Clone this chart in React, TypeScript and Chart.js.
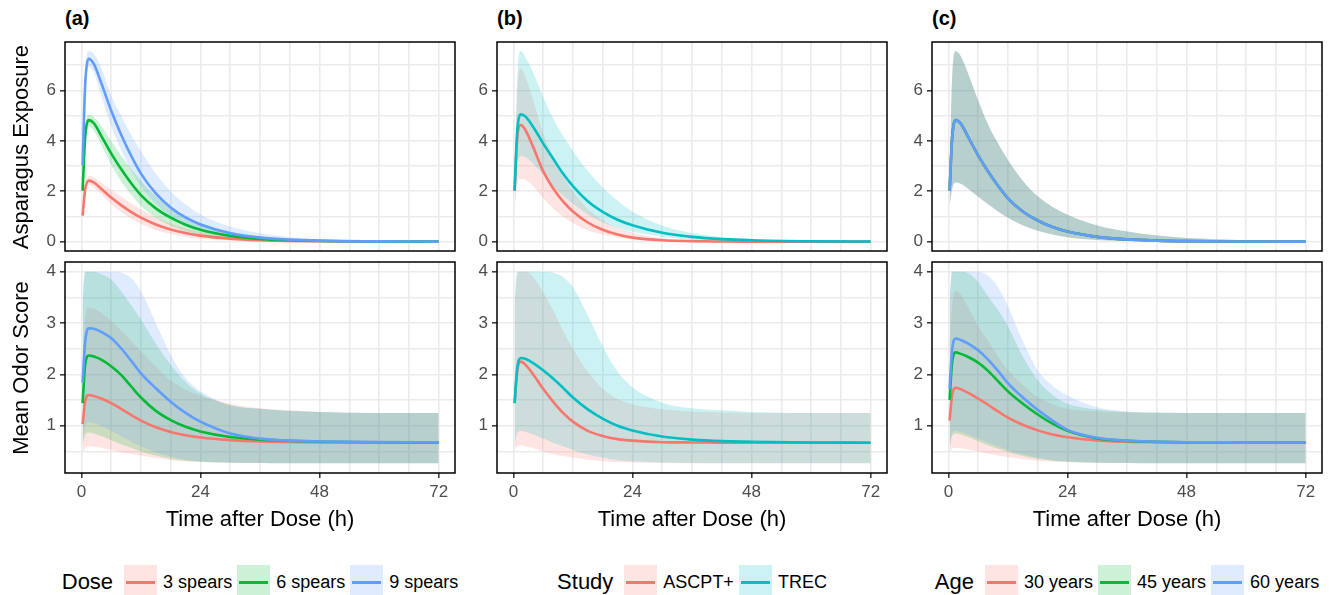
import React, { useEffect, useRef } from "react";
import { Chart, registerables } from "chart.js";
Chart.register(...registerables);

// ---------- data ----------
const TIME = [0.25, 0.75, 1.5, 2.5, 4, 6, 8, 10, 12, 15, 18, 21, 24, 30, 36, 42, 48, 60, 72];
const X_TICKS = [0, 6, 12, 18, 24, 30, 36, 42, 48, 54, 60, 66, 72];
const X_LABELS = [0, 24, 48, 72];
const EXPO_TICKS = [0, 1, 2, 3, 4, 5, 6, 7];
const EXPO_LABELS = [0, 2, 4, 6];
const ODOR_TICKS = [0.5, 1, 1.5, 2, 2.5, 3, 3.5, 4];
const ODOR_LABELS = [1, 2, 3, 4];

// (a) Dose – exposure
const DOSE3_EXPO = [1.03, 2.05, 2.42, 2.35, 2.1, 1.75, 1.45, 1.18, 0.95, 0.68, 0.48, 0.34, 0.24, 0.12, 0.06, 0.03, 0.015, 0.004, 0.001];
const DOSE3_EXPO_HI = [1.1, 2.2, 2.6, 2.55, 2.35, 2.05, 1.78, 1.52, 1.28, 0.97, 0.72, 0.53, 0.39, 0.21, 0.11, 0.06, 0.03, 0.01, 0.003];
const DOSE3_EXPO_LO = [0.95, 1.9, 2.25, 2.15, 1.88, 1.5, 1.18, 0.92, 0.71, 0.46, 0.3, 0.19, 0.12, 0.05, 0.02, 0.01, 0.005, 0.001, 0];
const DOSE6_EXPO = [2.02, 4.1, 4.82, 4.7, 4.2, 3.5, 2.88, 2.33, 1.85, 1.32, 0.95, 0.67, 0.47, 0.23, 0.11, 0.055, 0.027, 0.007, 0.002];
const DOSE6_EXPO_HI = [2.2, 4.4, 5.02, 4.95, 4.6, 4.0, 3.42, 2.9, 2.42, 1.8, 1.35, 1.0, 0.74, 0.4, 0.21, 0.11, 0.06, 0.02, 0.005];
const DOSE6_EXPO_LO = [1.9, 3.8, 4.55, 4.4, 3.85, 3.05, 2.4, 1.88, 1.42, 0.95, 0.63, 0.42, 0.28, 0.12, 0.05, 0.02, 0.01, 0.002, 0];
const DOSE9_EXPO = [3.02, 6.15, 7.25, 7.05, 6.3, 5.2, 4.25, 3.42, 2.7, 1.92, 1.36, 0.96, 0.68, 0.33, 0.16, 0.08, 0.04, 0.01, 0.003];
const DOSE9_EXPO_HI = [3.3, 6.6, 7.55, 7.45, 6.9, 5.8, 5.0, 4.25, 3.6, 2.7, 2.0, 1.48, 1.08, 0.6, 0.33, 0.18, 0.1, 0.03, 0.01];
const DOSE9_EXPO_LO = [2.8, 5.7, 6.95, 6.7, 5.8, 4.6, 3.65, 2.85, 2.2, 1.5, 1.0, 0.67, 0.45, 0.2, 0.09, 0.04, 0.02, 0.005, 0.001];

// (b) Study – exposure
const ASCPT_EXPO = [2.02, 4.05, 4.63, 4.4, 3.75, 2.8, 2.12, 1.6, 1.2, 0.76, 0.47, 0.28, 0.16, 0.055, 0.02, 0.007, 0.002, 0, 0];
const ASCPT_EXPO_HI = [2.3, 5.9, 6.87, 6.5, 5.6, 4.3, 3.35, 2.6, 2.0, 1.3, 0.85, 0.55, 0.35, 0.14, 0.055, 0.02, 0.008, 0.001, 0];
const ASCPT_EXPO_LO = [1.2, 2.25, 2.5, 2.45, 2.2, 1.73, 1.32, 1.0, 0.74, 0.45, 0.28, 0.17, 0.1, 0.035, 0.012, 0.004, 0.001, 0, 0];
const TREC_EXPO = [2.02, 4.3, 5.05, 4.95, 4.55, 3.9, 3.3, 2.7, 2.2, 1.6, 1.18, 0.87, 0.65, 0.35, 0.19, 0.1, 0.055, 0.016, 0.005];
const TREC_EXPO_HI = [2.2, 6.4, 7.55, 7.3, 6.7, 5.75, 4.9, 4.2, 3.6, 2.8, 2.15, 1.62, 1.2, 0.64, 0.34, 0.18, 0.1, 0.03, 0.01];
const TREC_EXPO_LO = [1.6, 2.9, 3.4, 3.35, 3.1, 2.65, 2.2, 1.82, 1.5, 1.08, 0.77, 0.55, 0.39, 0.19, 0.09, 0.045, 0.022, 0.006, 0.002];

// (c) Age – exposure (all three ages coincide)
const AGE_EXPO = [2.02, 4.1, 4.82, 4.68, 4.15, 3.42, 2.78, 2.22, 1.72, 1.2, 0.84, 0.58, 0.4, 0.19, 0.09, 0.043, 0.02, 0.005, 0.001];
const AGE_EXPO_HI = [2.4, 6.5, 7.55, 7.35, 6.65, 5.6, 4.65, 3.9, 3.24, 2.42, 1.8, 1.38, 1.07, 0.64, 0.4, 0.24, 0.15, 0.06, 0.02];
const AGE_EXPO_LO = [1.4, 2.1, 2.35, 2.3, 2.1, 1.78, 1.48, 1.2, 0.95, 0.65, 0.43, 0.28, 0.18, 0.07, 0.03, 0.012, 0.005, 0.001, 0];

// (a) Dose – odor
const DOSE3_ODOR = [1.03, 1.47, 1.6, 1.58, 1.53, 1.44, 1.33, 1.21, 1.1, 0.97, 0.88, 0.815, 0.77, 0.72, 0.695, 0.683, 0.677, 0.673, 0.672];
const DOSE3_ODOR_HI = [2.4, 3.1, 3.3, 3.28, 3.2, 3.04, 2.85, 2.65, 2.45, 2.15, 1.88, 1.7, 1.58, 1.43, 1.34, 1.3, 1.27, 1.25, 1.25];
const DOSE3_ODOR_LO = [0.48, 0.57, 0.6, 0.59, 0.57, 0.53, 0.49, 0.45, 0.42, 0.37, 0.33, 0.31, 0.295, 0.28, 0.275, 0.27, 0.27, 0.27, 0.27];
const DOSE6_ODOR = [1.44, 2.17, 2.37, 2.35, 2.29, 2.16, 1.99, 1.77, 1.55, 1.29, 1.11, 0.98, 0.89, 0.78, 0.73, 0.705, 0.69, 0.678, 0.674];
const DOSE6_ODOR_HI = [3.4, 4.0, 4.0, 4.0, 3.95, 3.85, 3.62, 3.35, 3.07, 2.6, 2.19, 1.85, 1.63, 1.4, 1.33, 1.29, 1.27, 1.25, 1.25];
const DOSE6_ODOR_LO = [0.6, 0.82, 0.87, 0.85, 0.8, 0.72, 0.64, 0.57, 0.5, 0.42, 0.36, 0.32, 0.3, 0.28, 0.275, 0.27, 0.27, 0.27, 0.27];
const DOSE9_ODOR = [1.84, 2.62, 2.9, 2.89, 2.83, 2.71, 2.51, 2.27, 2.02, 1.73, 1.47, 1.25, 1.08, 0.85, 0.75, 0.71, 0.695, 0.682, 0.678];
const DOSE9_ODOR_HI = [3.6, 4.0, 4.0, 4.0, 4.0, 4.0, 3.98, 3.88, 3.62, 3.0, 2.38, 1.93, 1.67, 1.4, 1.33, 1.29, 1.27, 1.25, 1.25];
const DOSE9_ODOR_LO = [0.7, 1.0, 1.07, 1.05, 1.0, 0.9, 0.8, 0.7, 0.6, 0.48, 0.4, 0.34, 0.31, 0.285, 0.275, 0.27, 0.27, 0.27, 0.27];

// (b) Study – odor
const ASCPT_ODOR = [1.44, 2.05, 2.25, 2.18, 2.0, 1.72, 1.47, 1.25, 1.08, 0.9, 0.8, 0.74, 0.71, 0.68, 0.675, 0.67, 0.67, 0.67, 0.67];
const ASCPT_ODOR_HI = [3.3, 3.95, 4.0, 4.0, 3.9, 3.6, 3.25, 2.85, 2.5, 2.05, 1.72, 1.52, 1.42, 1.32, 1.28, 1.26, 1.25, 1.25, 1.25];
const ASCPT_ODOR_LO = [0.5, 0.6, 0.62, 0.6, 0.56, 0.5, 0.45, 0.41, 0.38, 0.34, 0.31, 0.295, 0.285, 0.275, 0.27, 0.27, 0.27, 0.27, 0.27];
const TREC_ODOR = [1.44, 2.1, 2.32, 2.3, 2.22, 2.08, 1.92, 1.74, 1.55, 1.32, 1.14, 1.0, 0.91, 0.79, 0.73, 0.7, 0.69, 0.675, 0.67];
const TREC_ODOR_HI = [3.5, 4.0, 4.0, 4.0, 4.0, 4.0, 3.98, 3.9, 3.7, 3.15, 2.55, 2.05, 1.75, 1.45, 1.34, 1.3, 1.27, 1.25, 1.25];
const TREC_ODOR_LO = [0.6, 0.85, 0.9, 0.88, 0.83, 0.75, 0.67, 0.6, 0.53, 0.44, 0.38, 0.33, 0.31, 0.285, 0.275, 0.27, 0.27, 0.27, 0.27];

// (c) Age – odor
const AGE30_ODOR = [1.1, 1.6, 1.74, 1.71, 1.64, 1.53, 1.41, 1.28, 1.16, 1.02, 0.91, 0.83, 0.775, 0.715, 0.69, 0.68, 0.676, 0.673, 0.672];
const AGE30_ODOR_HI = [2.5, 3.35, 3.63, 3.55, 3.3, 2.94, 2.65, 2.35, 2.08, 1.8, 1.56, 1.42, 1.33, 1.28, 1.26, 1.25, 1.25, 1.25, 1.25];
const AGE30_ODOR_LO = [0.48, 0.55, 0.57, 0.56, 0.54, 0.5, 0.46, 0.42, 0.39, 0.35, 0.32, 0.3, 0.29, 0.28, 0.275, 0.27, 0.27, 0.27, 0.27];
const AGE45_ODOR = [1.5, 2.23, 2.43, 2.4, 2.34, 2.23, 2.07, 1.87, 1.67, 1.43, 1.22, 1.04, 0.9, 0.755, 0.705, 0.687, 0.679, 0.674, 0.673];
const AGE45_ODOR_HI = [3.4, 4.0, 4.0, 4.0, 3.97, 3.8, 3.52, 3.25, 2.94, 2.35, 1.89, 1.6, 1.43, 1.32, 1.27, 1.26, 1.25, 1.25, 1.25];
const AGE45_ODOR_LO = [0.58, 0.8, 0.85, 0.83, 0.78, 0.7, 0.62, 0.55, 0.49, 0.41, 0.36, 0.32, 0.3, 0.28, 0.275, 0.27, 0.27, 0.27, 0.27];
const AGE60_ODOR = [1.72, 2.47, 2.7, 2.67, 2.6, 2.47, 2.29, 2.07, 1.83, 1.55, 1.31, 1.1, 0.92, 0.765, 0.71, 0.69, 0.68, 0.675, 0.673];
const AGE60_ODOR_HI = [3.6, 4.0, 4.0, 4.0, 4.0, 4.0, 3.92, 3.7, 3.33, 2.65, 2.08, 1.78, 1.59, 1.36, 1.28, 1.26, 1.25, 1.25, 1.25];
const AGE60_ODOR_LO = [0.62, 0.85, 0.9, 0.88, 0.83, 0.75, 0.67, 0.6, 0.53, 0.44, 0.38, 0.33, 0.31, 0.285, 0.275, 0.27, 0.27, 0.27, 0.27];

const DOSE_NAMES = ["3 spears", "6 spears", "9 spears"];
const STUDY_NAMES = ["ASCPT+", "TREC"];
const AGE_NAMES = ["30 years", "45 years", "60 years"];

// ---------- styling ----------
const RED = "#F8766D";
const GREEN = "#00BA38";
const BLUE = "#619CFF";
const TEAL = "#00BFC4";
const FONT = "'Liberation Sans', Arial, Helvetica, sans-serif";

const PANEL_LEFT = [65, 497, 932];
const PANEL_W = 390;
const ROW_TOP = [42, 262];
const ROW_BOTTOM = [251, 473];
const Y_AXIS_W = 40;
const X_AXIS_H = 35;

function rgba(hex: string, a: number) {
  const n = parseInt(hex.slice(1), 16);
  return `rgba(${(n >> 16) & 255},${(n >> 8) & 255},${n & 255},${a})`;
}

type Group = { color: string; line: number[]; lo: number[]; hi: number[] };
type PanelDef = { col: number; row: number; groups: Group[] };

const PANELS: PanelDef[] = [
  { col: 0, row: 0, groups: [
    { color: RED, line: DOSE3_EXPO, lo: DOSE3_EXPO_LO, hi: DOSE3_EXPO_HI },
    { color: GREEN, line: DOSE6_EXPO, lo: DOSE6_EXPO_LO, hi: DOSE6_EXPO_HI },
    { color: BLUE, line: DOSE9_EXPO, lo: DOSE9_EXPO_LO, hi: DOSE9_EXPO_HI },
  ] },
  { col: 1, row: 0, groups: [
    { color: RED, line: ASCPT_EXPO, lo: ASCPT_EXPO_LO, hi: ASCPT_EXPO_HI },
    { color: TEAL, line: TREC_EXPO, lo: TREC_EXPO_LO, hi: TREC_EXPO_HI },
  ] },
  { col: 2, row: 0, groups: [
    { color: RED, line: AGE_EXPO, lo: AGE_EXPO_LO, hi: AGE_EXPO_HI },
    { color: GREEN, line: AGE_EXPO, lo: AGE_EXPO_LO, hi: AGE_EXPO_HI },
    { color: BLUE, line: AGE_EXPO, lo: AGE_EXPO_LO, hi: AGE_EXPO_HI },
  ] },
  { col: 0, row: 1, groups: [
    { color: RED, line: DOSE3_ODOR, lo: DOSE3_ODOR_LO, hi: DOSE3_ODOR_HI },
    { color: GREEN, line: DOSE6_ODOR, lo: DOSE6_ODOR_LO, hi: DOSE6_ODOR_HI },
    { color: BLUE, line: DOSE9_ODOR, lo: DOSE9_ODOR_LO, hi: DOSE9_ODOR_HI },
  ] },
  { col: 1, row: 1, groups: [
    { color: RED, line: ASCPT_ODOR, lo: ASCPT_ODOR_LO, hi: ASCPT_ODOR_HI },
    { color: TEAL, line: TREC_ODOR, lo: TREC_ODOR_LO, hi: TREC_ODOR_HI },
  ] },
  { col: 2, row: 1, groups: [
    { color: RED, line: AGE30_ODOR, lo: AGE30_ODOR_LO, hi: AGE30_ODOR_HI },
    { color: GREEN, line: AGE45_ODOR, lo: AGE45_ODOR_LO, hi: AGE45_ODOR_HI },
    { color: BLUE, line: AGE60_ODOR, lo: AGE60_ODOR_LO, hi: AGE60_ODOR_HI },
  ] },
];

const LEGENDS = [
  { title: "Dose", names: DOSE_NAMES, colors: [RED, GREEN, BLUE] },
  { title: "Study", names: STUDY_NAMES, colors: [RED, TEAL] },
  { title: "Age", names: AGE_NAMES, colors: [RED, GREEN, BLUE] },
];

const pts = (ys: number[]) => ys.map((y, i) => ({ x: TIME[i], y }));

const borderPlugin = {
  id: "panelBorder",
  afterDraw(chart: any) {
    const { ctx, chartArea: a } = chart;
    ctx.save();
    ctx.strokeStyle = "#000";
    ctx.lineWidth = 1.5;
    ctx.strokeRect(a.left, a.top, a.right - a.left, a.bottom - a.top);
    ctx.restore();
  },
};

function canvasBox(p: PanelDef) {
  const left = PANEL_LEFT[p.col] - Y_AXIS_W;
  const top = ROW_TOP[p.row] - 2;
  const width = Y_AXIS_W + PANEL_W + 3;
  const height = ROW_BOTTOM[p.row] - ROW_TOP[p.row] + 2 + (p.row === 1 ? X_AXIS_H : 2);
  return { left, top, width, height };
}

function buildConfig(p: PanelDef): any {
  const datasets: any[] = [];
  const common = { pointRadius: 0, pointHoverRadius: 0, cubicInterpolationMode: "monotone" };
  p.groups.forEach((g, i) => {
    const base = datasets.length;
    datasets.push({ ...common, data: pts(g.lo), borderColor: "rgba(0,0,0,0)", borderWidth: 0, fill: false, order: 50 - i });
    datasets.push({ ...common, data: pts(g.hi), borderColor: "rgba(0,0,0,0)", borderWidth: 0, fill: { target: base }, backgroundColor: rgba(g.color, 0.2), order: 50 - i });
    datasets.push({ ...common, data: pts(g.line), borderColor: g.color, borderWidth: 2.6, fill: false, order: 10 - i });
  });
  const bottom = p.row === 1;
  const yTicks = bottom ? ODOR_TICKS : EXPO_TICKS;
  const yLabels = bottom ? ODOR_LABELS : EXPO_LABELS;
  const tickFont = { family: FONT, size: 17 };
  return {
    type: "line",
    data: { datasets },
    plugins: [borderPlugin],
    options: {
      animation: false,
      responsive: false,
      devicePixelRatio: 1,
      events: [],
      layout: { padding: { top: 2, right: 3, left: 0, bottom: bottom ? 0 : 2 } },
      plugins: { legend: { display: false }, tooltip: { enabled: false } },
      scales: {
        x: {
          type: "linear",
          min: -3.3,
          max: 75.3,
          afterBuildTicks: (s: any) => { s.ticks = X_TICKS.map((v) => ({ value: v })); },
          afterFit: (s: any) => { s.height = bottom ? X_AXIS_H : 0; s.paddingLeft = 0; s.paddingRight = 0; },
          border: { display: false },
          grid: {
            color: "#EBEBEB",
            lineWidth: 1.6,
            drawTicks: bottom,
            tickLength: 5,
            tickWidth: 1.5,
            tickColor: (c: any) => (c.tick && X_LABELS.includes(c.tick.value) ? "#333333" : "rgba(0,0,0,0)"),
          },
          ticks: {
            display: bottom,
            autoSkip: false,
            maxRotation: 0,
            padding: 4,
            color: "#4D4D4D",
            font: tickFont,
            callback: (v: number) => (X_LABELS.includes(v) ? String(v) : ""),
          },
        },
        y: {
          type: "linear",
          min: bottom ? 0.08 : -0.37,
          max: bottom ? 4.19 : 7.92,
          afterBuildTicks: (s: any) => { s.ticks = yTicks.map((v) => ({ value: v })); },
          afterFit: (s: any) => { s.width = Y_AXIS_W; s.paddingTop = 0; s.paddingBottom = 0; },
          border: { display: false },
          grid: {
            color: "#EBEBEB",
            lineWidth: 1.6,
            drawTicks: true,
            tickLength: 5,
            tickWidth: 1.5,
            tickColor: (c: any) => (c.tick && yLabels.includes(c.tick.value) ? "#333333" : "rgba(0,0,0,0)"),
          },
          ticks: {
            autoSkip: false,
            padding: 4,
            color: "#4D4D4D",
            font: tickFont,
            callback: (v: number) => (yLabels.includes(v) ? String(v) : ""),
          },
        },
      },
    },
  };
}

function LegendRow({ title, names, colors, center }: { title: string; names: string[]; colors: string[]; center: number }) {
  return (
    <div style={{ position: "absolute", left: center - 300, width: 600, top: 565, height: 34, display: "flex", justifyContent: "center", alignItems: "center" }}>
      <span style={{ fontSize: 22, color: "#000", marginRight: 11 }}>{title}</span>
      {names.map((n, i) => (
        <React.Fragment key={n}>
          <span style={{ position: "relative", width: 33, height: 34, background: rgba(colors[i], 0.2), marginRight: 6, flex: "none" }}>
            <span style={{ position: "absolute", left: 2, right: 2, top: 15.5, height: 3, background: colors[i] }} />
          </span>
          <span style={{ fontSize: 18, color: "#000", marginRight: i < names.length - 1 ? 5 : 0 }}>{n}</span>
        </React.Fragment>
      ))}
    </div>
  );
}

export default function App() {
  const refs = useRef<(HTMLCanvasElement | null)[]>([]);
  useEffect(() => {
    const charts = PANELS.map((p, i) => new Chart(refs.current[i] as HTMLCanvasElement, buildConfig(p)));
    return () => charts.forEach((c) => c.destroy());
  }, []);

  const tags = ["(a)", "(b)", "(c)"];
  return (
    <div style={{ position: "absolute", left: 0, top: 0, width: 1336, height: 595, background: "#fff", fontFamily: FONT, overflow: "hidden" }}>
      {PANELS.map((p, i) => {
        const b = canvasBox(p);
        return (
          <canvas
            key={i}
            ref={(el) => { refs.current[i] = el; }}
            width={b.width}
            height={b.height}
            style={{ position: "absolute", left: b.left, top: b.top, width: b.width, height: b.height }}
          />
        );
      })}
      {tags.map((t, i) => (
        <div key={t} style={{ position: "absolute", left: PANEL_LEFT[i], top: 7, fontSize: 20, fontWeight: "bold", lineHeight: "22px" }}>{t}</div>
      ))}
      {["Asparagus Exposure", "Mean Odor Score"].map((t, r) => {
        const cy = (ROW_TOP[r] + ROW_BOTTOM[r]) / 2;
        return (
          <div key={t} style={{ position: "absolute", left: 21 - 150, top: cy - 11, width: 300, height: 22, lineHeight: "22px", fontSize: 22, textAlign: "center", transform: "rotate(-90deg)", whiteSpace: "nowrap" }}>{t}</div>
        );
      })}
      {PANEL_LEFT.map((l, i) => (
        <div key={i} style={{ position: "absolute", left: l, width: PANEL_W, top: 508, lineHeight: "22px", fontSize: 22, textAlign: "center" }}>Time after Dose (h)</div>
      ))}
      {LEGENDS.map((lg, i) => (
        <LegendRow key={lg.title} title={lg.title} names={lg.names} colors={lg.colors} center={PANEL_LEFT[i] + PANEL_W / 2} />
      ))}
    </div>
  );
}
